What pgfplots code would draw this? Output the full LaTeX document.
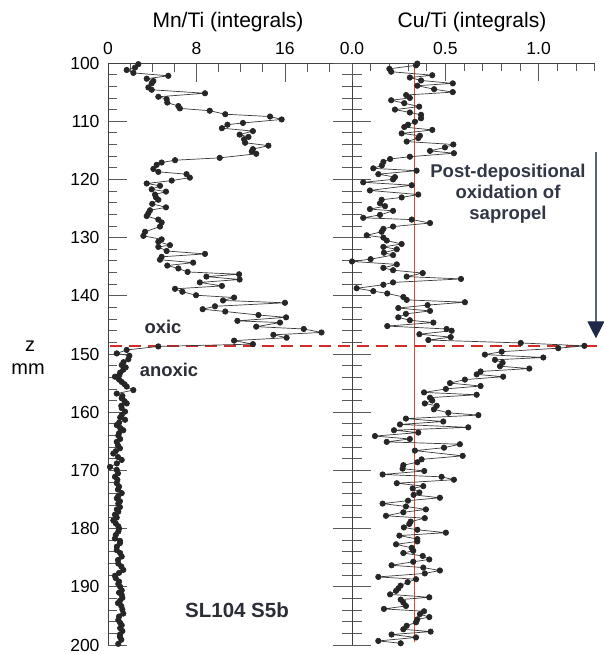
\documentclass[border=0pt]{standalone}
\usepackage{fontspec}
\setmainfont{Liberation Sans}
\usepackage{pgfplots}
\pgfplotsset{compat=1.18}
\usetikzlibrary{arrows.meta}

\definecolor{dataline}{HTML}{3A3A3A}
\definecolor{markc}{HTML}{262626}
\definecolor{reddash}{HTML}{D42A2A}
\definecolor{redline}{HTML}{E8452A}
\definecolor{annot}{HTML}{2C2E36}
\definecolor{annotb}{HTML}{323746}
\definecolor{arrline}{HTML}{5A6275}
\definecolor{arrhead}{HTML}{1E2A48}

\pgfplotsset{
  every tick label/.append style={font=\fontsize{17.5}{20}\selectfont},
  /pgf/number format/assume math mode=true,
  core/.style={
    scale only axis, height=582pt,
    ymin=100, ymax=200, y dir=reverse,
    clip=false,
    axis line style={black!75, line width=0.9pt},
    tick style={black!65, line width=0.8pt},
  },
  series/.style={dataline, line width=0.7pt, mark=*, mark size=2.7pt,
    mark options={fill=markc, draw=markc, solid}},
}

\begin{document}
\begin{tikzpicture}[x=1pt,y=1pt]
\useasboundingbox (0,0) rectangle (604,654);

% Mn/Ti panel
\begin{axis}[core,
  at={(108pt,9pt)}, anchor=south west, width=244pt,
  xmin=0, xmax=22.06,
  axis x line*=top, axis y line*=left,
  tick align=inside,
  major tick length=19pt, minor tick length=9pt,
  xtick={0,8,16}, minor xtick={2,4,6,10,12,14,18,20},
  ytick={100,110,...,200}, minor y tick num=4,
  xticklabel style={yshift=5pt},
  yticklabel style={xshift=-5pt},
]
\addplot[reddash, line width=1.8pt, dash pattern=on 12pt off 7pt]
  coordinates {(0.2,148.6)(44.8,148.6)};
\addplot[series] coordinates {
(2.74,100.2)(2.44,100.8)(1.69,101.2)(2.29,101.7)(5.45,102.2)(3.5,102.7)(4.1,103.1)(3.95,103.5)
(3.65,104.2)(3.95,104.6)(8.77,105.2)(4.55,105.8)(5.3,106.2)(5.36,106.8)(6.36,107.4)(6.5,107.8)
(9.2,108.2)(10.6,108.8)(14.65,109.2)(15.7,109.7)(12.2,110.3)(10.8,110.6)(10.3,111.2)(13.1,111.7)
(11.9,112.3)(12.7,112.7)(12.3,113.1)(12.4,113.7)(14.5,114.2)(13.1,114.8)(13.0,115.2)(13.4,115.6)
(10.1,116.3)(6.06,116.7)(4.85,117.1)(4.4,117.5)(4.1,118.2)(4.55,118.7)(7.1,119.1)(7.4,119.7)
(5.76,120.2)(3.5,120.7)(4.7,121.1)(3.95,121.7)(5.24,122.1)(4.25,122.6)(4.34,123.1)(4.55,123.5)
(4.0,124.2)(5.24,124.8)(3.8,125.3)(3.65,125.8)(3.5,126.3)(4.55,126.9)(4.85,127.4)(4.7,128.1)
(3.35,129.0)(3.2,129.7)(4.85,130.3)(4.55,130.7)(5.6,131.3)(4.55,131.6)(5.3,132.3)(8.77,132.8)
(4.85,133.3)(4.7,133.8)(7.7,134.3)(5.36,134.8)(6.36,135.3)(7.2,135.9)(11.85,136.3)(8.9,136.7)
(11.9,137.2)(8.3,137.7)(10.3,138.3)(6.06,138.8)(6.72,139.3)(7.96,139.9)(11.4,140.3)(10.4,140.8)
(16.0,141.2)(9.67,141.8)(8.56,142.3)(10.6,142.7)(13.6,143.3)(16.1,143.7)(11.7,144.3)(15.55,144.6)
(13.4,145.3)(17.7,145.7)(19.3,146.3)(14.95,146.7)(16.15,147.2)(11.4,147.7)(13.1,148.3)(4.55,148.7)
(1.69,149.3)(0.79,149.9)(1.93,150.3)(1.84,150.9)(1.4,151.4)(1.24,151.9)(1.6,152.3)(1.38,152.7)
(1.1,153.2)(1.02,153.6)(0.63,153.9)(1.0,154.4)(1.24,154.8)(1.5,155.2)(1.69,155.6)(2.29,156.2)
(0.79,156.8)(1.3,157.2)(1.24,157.6)(1.5,158.1)(1.69,158.5)(1.2,158.9)(1.24,159.3)(1.54,159.9)
(1.24,160.5)(1.1,160.9)(1.54,161.3)(1.0,161.8)(0.79,162.2)(1.1,162.7)(1.38,163.1)(1.0,163.6)
(0.93,164.0)(1.1,164.6)(0.79,165.1)(0.9,165.7)(1.08,166.2)(0.7,166.7)(0.48,167.1)(0.9,167.7)
(1.24,168.2)(0.8,168.8)(0.18,169.4)(0.79,169.9)(0.9,170.5)(0.63,171.1)(0.85,171.6)(0.79,172.2)
(1.0,172.8)(0.9,173.3)(1.24,173.9)(0.93,174.4)(0.8,174.8)(1.08,175.3)(0.93,175.7)(1.08,176.3)
(0.8,176.7)(0.93,177.1)(0.63,177.6)(0.79,178.1)(0.48,178.6)(0.7,179.1)(0.93,179.6)(1.0,180.0)
(0.93,180.5)(0.7,181.1)(0.63,181.7)(1.08,182.1)(1.08,182.5)(0.8,183.1)(0.79,183.7)(1.1,184.2)
(1.24,184.8)(0.9,185.4)(0.93,186.0)(1.2,186.5)(1.38,187.1)(1.0,187.6)(0.63,188.1)(0.7,188.5)
(1.0,189.1)(0.93,189.5)(1.1,190.0)(1.24,190.6)(1.0,191.0)(1.24,191.4)(1.3,191.9)(1.08,192.4)
(0.9,192.8)(1.2,193.3)(1.3,193.9)(1.38,194.6)(1.0,195.1)(0.93,195.7)(1.1,196.2)(1.24,196.6)
(1.1,197.1)(1.3,197.6)(1.08,198.2)(1.08,198.6)(1.2,199.1)(0.93,199.8)
};
\end{axis}

% Cu/Ti panel: cross ticks on the zero line
\begin{axis}[core,
  at={(352pt,9pt)}, anchor=south west, width=243pt,
  xmin=0, xmax=1.302,
  axis x line=none, axis y line*=left,
  tick align=center,
  major tick length=38pt, minor tick length=20pt,
  ytick={100,110,...,200}, minor y tick num=4, yticklabels={},
]
\end{axis}

% Cu/Ti panel: top axis and data
\begin{axis}[core,
  at={(352pt,9pt)}, anchor=south west, width=243pt,
  xmin=0, xmax=1.302,
  axis x line*=top, axis y line=none,
  tick align=inside,
  major tick length=18pt, minor tick length=8pt,
  xtick={0,0.5,1.0}, minor xtick={0.1,0.2,0.3,0.4,0.6,0.7,0.8,0.9,1.1,1.2,1.3},
  xticklabel style={yshift=5pt, /pgf/number format/.cd, fixed, fixed zerofill, precision=1},
]
\addplot[redline, line width=0.9pt] coordinates {(0.337,100)(0.337,199.5)};
\addplot[series] coordinates {
(0.35,100.1)(0.343,100.4)(0.2,101.0)(0.21,101.5)(0.43,102.1)(0.31,102.5)(0.37,103.0)(0.54,103.5)
(0.35,103.9)(0.44,104.5)(0.54,105.0)(0.29,105.5)(0.31,106.0)(0.21,106.4)(0.28,106.9)(0.36,107.5)
(0.23,108.0)(0.31,108.5)(0.37,108.9)(0.37,109.5)(0.337,110.1)(0.30,110.6)(0.28,111.0)(0.43,111.5)
(0.266,112.1)(0.364,112.5)(0.355,112.9)(0.293,113.5)(0.543,114.0)(0.498,114.5)(0.418,115.1)(0.546,115.5)
(0.31,116.1)(0.204,116.5)(0.168,117.0)(0.16,117.6)(0.114,118.1)(0.346,118.5)(0.141,119.1)(0.23,119.6)
(0.22,120.0)(0.06,120.5)(0.32,121.0)(0.096,121.9)(0.355,122.6)(0.266,123.1)(0.159,123.5)(0.15,124.1)
(0.177,124.6)(0.096,125.1)(0.22,125.4)(0.15,126.1)(0.06,126.6)(0.32,126.9)(0.418,127.5)(0.22,128.1)
(0.168,128.5)(0.159,129.0)(0.079,129.6)(0.168,130.0)(0.186,130.5)(0.266,131.1)(0.168,131.6)(0.24,132.0)
(0.171,132.6)(0.22,133.0)(0.1,133.7)(0.0,134.1)(0.24,134.6)(0.168,135.2)(0.22,135.6)(0.379,136.1)
(0.293,136.7)(0.584,137.1)(0.22,137.7)(0.168,138.1)(0.025,138.7)(0.114,139.2)(0.189,139.6)(0.275,140.2)
(0.293,140.7)(0.605,141.1)(0.405,141.6)(0.248,142.1)(0.418,142.6)(0.289,143.1)(0.248,143.7)(0.31,144.2)
(0.436,144.6)(0.189,145.2)(0.507,145.7)(0.534,146.0)(0.361,146.6)(0.529,147.1)(0.409,147.6)(0.904,148.1)
(1.245,148.6)(1.105,149.0)(0.802,149.6)(0.712,150.1)(1.025,150.6)(0.766,151.0)(0.807,151.5)(0.793,152.1)
(0.95,152.5)(0.689,153.0)(0.668,153.5)(0.81,153.9)(0.605,154.4)(0.525,155.0)(0.689,155.5)(0.503,156.0)
(0.386,156.6)(0.668,157.0)(0.418,157.5)(0.43,158.0)(0.39,158.5)(0.454,158.9)(0.439,159.5)(0.516,160.1)
(0.677,160.5)(0.289,161.1)(0.489,161.6)(0.257,162.1)(0.623,162.6)(0.225,163.1)(0.355,163.5)(0.123,164.1)
(0.31,164.6)(0.186,165.1)(0.578,165.5)(0.493,166.1)(0.337,166.6)(0.593,167.5)(0.373,168.1)(0.35,168.6)
(0.275,169.1)(0.271,169.7)(0.387,170.1)(0.164,170.7)(0.48,171.1)(0.546,171.6)(0.24,172.2)(0.382,172.7)
(0.325,173.1)(0.361,173.8)(0.33,174.2)(0.471,174.7)(0.30,175.2)(0.164,175.7)(0.289,176.2)(0.396,176.7)
(0.275,177.2)(0.182,177.8)(0.39,178.2)(0.314,178.8)(0.307,179.2)(0.278,179.8)(0.35,180.2)(0.503,180.7)
(0.254,181.2)(0.35,181.8)(0.35,182.2)(0.236,182.7)(0.32,183.3)(0.328,183.8)(0.275,184.2)(0.379,184.7)
(0.414,185.3)(0.328,185.7)(0.212,186.3)(0.382,186.7)(0.471,187.2)(0.39,187.7)(0.141,188.3)(0.343,188.7)
(0.298,189.2)(0.26,189.8)(0.248,190.3)(0.236,190.7)(0.204,191.3)(0.414,191.8)(0.261,192.2)(0.275,192.7)
(0.289,193.3)(0.171,193.8)(0.386,194.2)(0.364,194.7)(0.414,195.2)(0.35,195.6)(0.343,196.1)(0.293,196.7)
(0.275,197.3)(0.421,197.7)(0.212,198.2)(0.343,198.7)(0.141,199.3)(0.261,199.7)
};
\draw[arrline, line width=1.2pt,
  -{Triangle[width=17pt, length=17pt, color=arrhead]}]
  (axis cs:1.307,115.3) -- (axis cs:1.307,147.3);
\end{axis}

% titles and annotations
\node[font=\fontsize{21}{24}\selectfont] at (228,632) {Mn/Ti (integrals)};
\node[font=\fontsize{21}{24}\selectfont] at (472,632) {Cu/Ti (integrals)};
\node[font=\fontsize{20}{22}\selectfont] at (30,308) {z};
\node[font=\fontsize{20}{22}\selectfont] at (28,285) {mm};
\node[font=\bfseries\fontsize{18.4}{20}\selectfont, text=annot] at (163,327) {oxic};
\node[font=\bfseries\fontsize{18.4}{20}\selectfont, text=annot] at (169,284) {anoxic};
\node[font=\bfseries\fontsize{20.5}{23}\selectfont, text=annot] at (237,44) {SL104 S5b};
\node[font=\bfseries\fontsize{18.5}{21}\selectfont, text=annotb, align=center] at (508,460)
  {Post-depositional\\oxidation of\\sapropel};
\end{tikzpicture}
\end{document}
